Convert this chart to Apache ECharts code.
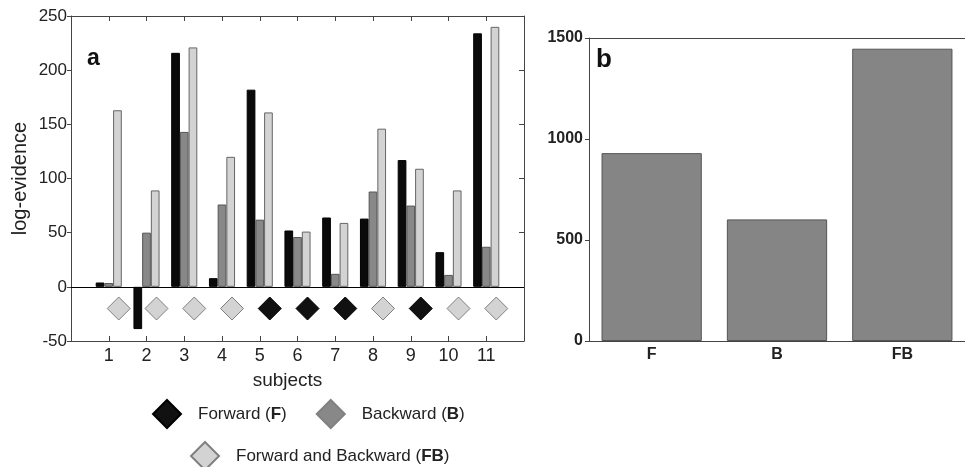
<!DOCTYPE html>
<html>
<head>
<meta charset="utf-8">
<script src="https://cdn.jsdelivr.net/npm/echarts@6/dist/echarts.min.js"></script>
<style>html,body{margin:0;padding:0;background:#fff}#c{width:965px;height:467px}</style>
</head>
<body>
<div id="c"></div>
<script>
// ---- data (panel a) ----
const subjects = ['1','2','3','4','5','6','7','8','9','10','11'];
const forwardVals  = [4, -39, 216, 8, 182, 52, 64, 63, 117, 32, 234];
const backwardVals = [3.5, 50, 143, 76, 62, 46, 12, 88, 75, 11, 37];
const fbVals       = [163, 89, 221, 120, 161, 51, 59, 146, 109, 89, 240];
const winners      = ['FB','FB','FB','FB','F','F','F','FB','F','FB','FB'];
const markerLevel  = -20;
const yTicksA = { min: -50, max: 250, interval: 50 };
// ---- data (panel b) ----
const models = ['F', 'B', 'FB'];
const totals = [930, 602, 1447];
const yTicksB = { min: 0, max: 1500, interval: 500 };

const FONT = 'Liberation Sans, Arial, sans-serif';
const AX = '#444';
const TXT = '#222';

const cats = [''].concat(subjects, ['']);
const pad = arr => [null].concat(arr, [null]);

const colors = {
  F:  { fill: '#0a0a0a', border: '#000' },
  B:  { fill: '#888888', border: '#555555' },
  FB: { fill: '#d3d3d3', border: '#666666' }
};
const names = { F: 'Forward (F)', B: 'Backward (B)', FB: 'Forward and Backward (FB)' };

function barSeries(key, vals, extra) {
  return Object.assign({
    type: 'bar', xAxisIndex: 0, yAxisIndex: 0,
    data: pad(vals), barWidth: 8.7, barGap: '0%',
    itemStyle: { color: colors[key].fill, borderColor: colors[key].border, borderWidth: 1 },
    emphasis: { disabled: true }, silent: true
  }, extra || {});
}
function markerSeries(key) {
  const data = [];
  subjects.forEach((s, i) => { if (winners[i] === key) data.push([s, markerLevel]); });
  return {
    type: 'scatter', name: names[key], xAxisIndex: 0, yAxisIndex: 0,
    symbol: 'diamond', symbolSize: 23, symbolOffset: [10, 0],
    data: data,
    itemStyle: { color: key === 'F' ? '#111' : colors[key].fill, borderColor: key === 'F' ? '#000' : '#808080', borderWidth: 1, opacity: 1 },
    silent: true, z: 5
  };
}
const legendText = {
  fontFamily: FONT, fontSize: 17, color: TXT,
  rich: {
    sp: { width: 12 },
    b: { fontFamily: FONT, fontSize: 17, fontWeight: 'bold', color: TXT }
  }
};
const legendFmt = n => '{sp|}' + n.replace(/\((\w+)\)/, '({b|$1})');

const chart = echarts.init(document.getElementById('c'), null, { renderer: 'canvas' });
chart.setOption({
  animation: false,
  backgroundColor: '#fff',
  grid: [
    { left: 71, right: 441, top: 16, bottom: 126, containLabel: false },
    { left: 589, right: -8, top: 38, bottom: 126, containLabel: false }
  ],
  xAxis: [
    { type: 'category', gridIndex: 0, data: cats, boundaryGap: false, position: 'bottom',
      axisLine: { onZero: false, lineStyle: { color: AX, width: 1 } },
      axisTick: { inside: true, length: 5, lineStyle: { color: AX } },
      axisLabel: { fontFamily: FONT, fontSize: 18, color: TXT, margin: 6 },
      name: 'subjects', nameLocation: 'middle', nameGap: 30,
      nameTextStyle: { fontFamily: FONT, fontSize: 19, color: TXT, padding: [0, 20, 0, 0] },
      splitLine: { show: false } },
    { type: 'category', gridIndex: 0, data: cats, boundaryGap: false, position: 'top',
      axisLine: { onZero: false, lineStyle: { color: AX, width: 1 } },
      axisTick: { inside: true, length: 5, lineStyle: { color: AX } },
      axisLabel: { show: false }, splitLine: { show: false } },
    { type: 'category', gridIndex: 1, data: models, position: 'bottom',
      axisLine: { onZero: false, lineStyle: { color: AX, width: 1 } },
      axisTick: { inside: true, length: 5, alignWithLabel: true, lineStyle: { color: AX } },
      axisLabel: { fontFamily: FONT, fontSize: 16, fontWeight: 'bold', color: TXT, margin: 6 } },
    { type: 'category', gridIndex: 1, data: models, position: 'top',
      axisLine: { onZero: false, lineStyle: { color: AX, width: 1 } },
      axisTick: { inside: true, length: 5, alignWithLabel: true, lineStyle: { color: AX } },
      axisLabel: { show: false } }
  ],
  yAxis: [
    { type: 'value', gridIndex: 0, min: yTicksA.min, max: yTicksA.max, interval: yTicksA.interval, position: 'left',
      axisLine: { show: true, onZero: false, lineStyle: { color: AX, width: 1 } },
      axisTick: { show: true, inside: false, length: 4, lineStyle: { color: AX } },
      axisLabel: { fontFamily: FONT, fontSize: 17, color: TXT, margin: 4 },
      splitLine: { show: false },
      name: 'log-evidence', nameLocation: 'middle', nameRotate: 90, nameGap: 41,
      nameTextStyle: { fontFamily: FONT, fontSize: 20, color: TXT } },
    { type: 'value', gridIndex: 0, min: yTicksA.min, max: yTicksA.max, interval: yTicksA.interval, position: 'right',
      axisLine: { show: true, onZero: false, lineStyle: { color: AX, width: 1 } },
      axisTick: { show: true, inside: true, length: 5, lineStyle: { color: AX } },
      axisLabel: { show: false }, splitLine: { show: false } },
    { type: 'value', gridIndex: 1, min: yTicksB.min, max: yTicksB.max, interval: yTicksB.interval, position: 'left',
      axisLine: { show: true, onZero: false, lineStyle: { color: AX, width: 1 } },
      axisTick: { show: true, inside: false, length: 4, lineStyle: { color: AX } },
      axisLabel: { fontFamily: FONT, fontSize: 16, fontWeight: 'bold', color: TXT, margin: 6,
        formatter: v => String(v) },
      splitLine: { show: false } },
    { type: 'value', gridIndex: 1, min: yTicksB.min, max: yTicksB.max, interval: yTicksB.interval, position: 'right',
      axisLine: { show: true, onZero: false, lineStyle: { color: AX, width: 1 } },
      axisTick: { show: false },
      axisLabel: { show: false }, splitLine: { show: false } }
  ],
  legend: [
    { left: 147, top: 394, orient: 'horizontal', itemWidth: 28, itemHeight: 28, itemGap: 29,
      icon: 'diamond', data: [names.F, names.B], textStyle: legendText, formatter: legendFmt, selectedMode: false },
    { left: 185, top: 436, orient: 'horizontal', itemWidth: 28, itemHeight: 28,
      icon: 'diamond', data: [names.FB], textStyle: legendText, formatter: legendFmt, selectedMode: false }
  ],
  graphic: [
    { type: 'text', left: 87, top: 47, style: { text: 'a', font: 'bold 23px ' + FONT, fill: '#111' }, silent: true },
    { type: 'text', left: 596, top: 47, style: { text: 'b', font: 'bold 26px ' + FONT, fill: '#111' }, silent: true }
  ],
  series: [
    barSeries('F', forwardVals, {
      markLine: { silent: true, symbol: 'none', label: { show: false },
        lineStyle: { color: '#000', width: 1, type: 'solid' }, data: [{ yAxis: 0 }] }
    }),
    barSeries('B', backwardVals),
    barSeries('FB', fbVals),
    markerSeries('F'),
    markerSeries('B'),
    markerSeries('FB'),
    { type: 'bar', xAxisIndex: 2, yAxisIndex: 2, data: totals, barWidth: '80%',
      itemStyle: { color: '#858585', borderColor: '#555', borderWidth: 1 }, silent: true }
  ]
});
</script>
</body>
</html>
